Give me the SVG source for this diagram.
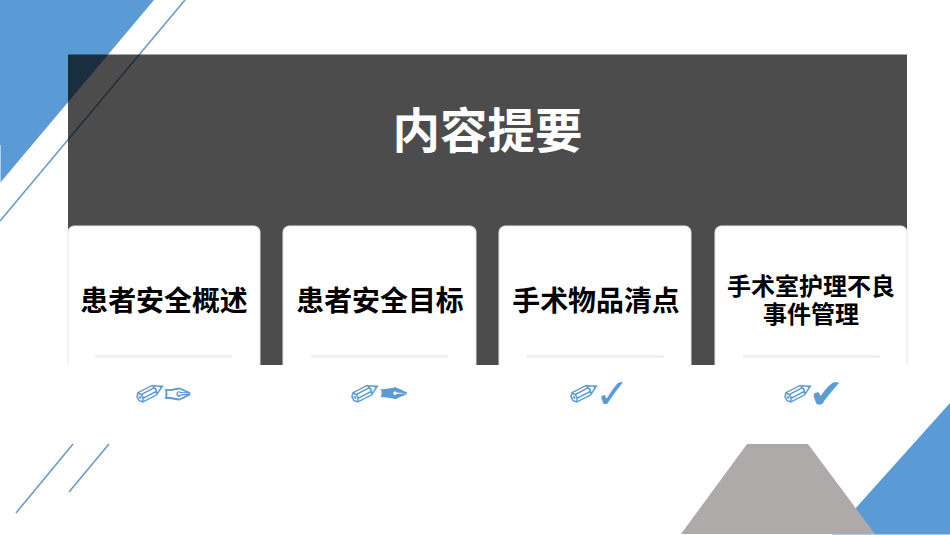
<svg xmlns="http://www.w3.org/2000/svg" width="950" height="535" viewBox="0 0 950 535">
<style>
text{font-family:"Noto Sans CJK SC","Liberation Sans",sans-serif;font-weight:700;text-anchor:middle}
.t{font-size:27.9px;fill:#000}
.s{font-size:24px;fill:#000}
.i{font-family:"DejaVu Sans",sans-serif;font-weight:400;font-size:36px;fill:#5b9bd5;text-anchor:start}
.k{font-size:41px}
.card{fill:#fff;stroke:#e6e6e6;stroke-width:1}
.bar{fill:#f2f2f2}
.ln{stroke:#6a9bc9;stroke-width:1.6;fill:none}
</style>
<rect width="950" height="535" fill="#fff"/>
<g id="decor-top">
<polygon points="0,0 154,0 0,183" fill="#5b9bd5"/>
<rect x="0" y="145" width="1" height="38" fill="#fff" fill-opacity=".5"/>
<line class="ln" x1="185" y1="0" x2="0" y2="221"/>
</g>
<rect id="panel" x="68" y="54.5" width="839" height="310.5" fill="#000" fill-opacity=".7"/>
<text id="title" x="487.500" y="148" style="font-size:47.500px;fill:#fff">内容提要</text>
<g id="card1"><path class="card" d="M68 365V232a6 6 0 0 1 6-6H254a6 6 0 0 1 6 6V365"/><rect class="bar" x="95" y="355" width="137" height="3"/><text class="t" x="164" y="311">患者安全概述</text><text class="i" x="134" y="407" transform="rotate(18 149 394)">✐</text><text class="i" x="163" y="407">✑</text></g>
<g id="card2"><path class="card" d="M283 365V232a6 6 0 0 1 6-6H470a6 6 0 0 1 6 6V365"/><rect class="bar" x="311" y="355" width="137" height="3"/><text class="t" x="380" y="311">患者安全目标</text><text class="i" x="349" y="407" transform="rotate(18 364 394)">✐</text><text class="i" x="378" y="407" style="font-size:38px">✒</text></g>
<g id="card3"><path class="card" d="M499 365V232a6 6 0 0 1 6-6H685a6 6 0 0 1 6 6V365"/><rect class="bar" x="526" y="355" width="138" height="3" rx="1.500"/><text class="t" x="596" y="311">手术物品清点</text><text class="i" x="568" y="407" transform="rotate(18 583 394)">✐</text><text class="i k" x="595" y="408">✓</text></g>
<g id="card4"><path class="card" d="M715 365V232a6 6 0 0 1 6-6H901a6 6 0 0 1 6 6V365"/><rect class="bar" x="742" y="355" width="138" height="3" rx="1.500"/><text class="s" x="811" y="295">手术室护理不良</text><text class="s" x="811" y="323">事件管理</text><text class="i" x="782" y="407" transform="rotate(18 797 394)">✐</text><text class="i k" x="809" y="408">✔</text></g>
<g id="decor-bottom">
<line class="ln" x1="73" y1="444" x2="16" y2="513"/>
<line class="ln" x1="109" y1="444" x2="69" y2="492"/>
<polygon points="950,403 950,534.500 832,534.500" fill="#5b9bd5"/>
<polygon points="747,444 808,444 875,534 681,534" fill="#aeaaaa"/>
</g>
</svg>
